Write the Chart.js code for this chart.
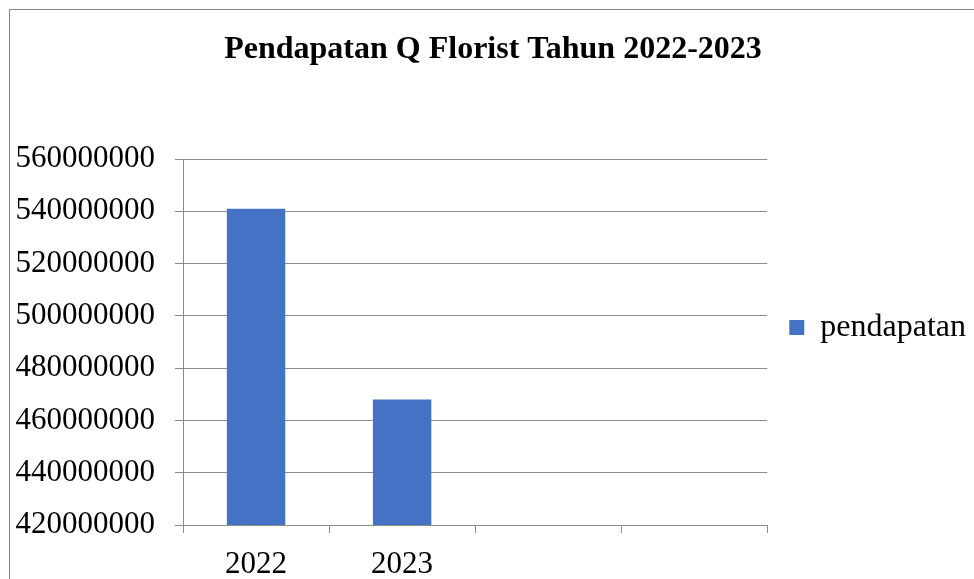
<!DOCTYPE html>
<html>
<head>
<meta charset="utf-8">
<script src="https://cdn.jsdelivr.net/npm/chart.js@4/dist/chart.umd.min.js"></script>
<style>
html,body{margin:0;padding:0;background:#fff;}
#wrap{position:relative;width:974px;height:579px;}
</style>
</head>
<body>
<div id="wrap"><canvas id="c" width="974" height="579"></canvas></div>
<script>
const chartTitle = "Pendapatan Q Florist Tahun 2022-2023";
const categories = ["2022", "2023", "", ""];
const seriesName = "pendapatan";
const pendapatan = [541000000, 468000000, null, null];
const yMin = 420000000;
const yMax = 560000000;
const yStep = 20000000;

const frame = {
  id: 'frame',
  beforeDraw(chart) {
    const ctx = chart.ctx;
    ctx.save();
    ctx.fillStyle = '#fff';
    ctx.fillRect(0, 0, chart.width, chart.height);
    ctx.strokeStyle = '#868686';
    ctx.lineWidth = 1;
    ctx.strokeRect(9.5, 9.5, 1200, 1200);
    ctx.restore();
  }
};

const serif = "'Liberation Serif', 'Times New Roman', serif";
const gridColor = '#8c8c8c';

new Chart(document.getElementById('c'), {
  type: 'bar',
  data: {
    labels: categories,
    datasets: [{
      label: seriesName,
      data: pendapatan,
      backgroundColor: '#4472C4',
      borderWidth: 0,
      categoryPercentage: 1,
      barPercentage: 0.4
    }]
  },
  options: {
    responsive: false,
    animation: false,
    devicePixelRatio: 1,
    layout: { padding: { left: 10, right: -2, top: 0, bottom: 0 } },
    plugins: {
      title: {
        display: true,
        text: chartTitle,
        color: '#000',
        font: { family: serif, size: 32, weight: 'bold' },
        padding: { top: 31, bottom: 89.6 }
      },
      legend: {
        display: true,
        position: 'right',
        align: 'center',
        title: {
          display: true,
          text: ' ',
          font: { size: 10 },
          padding: { top: 0, bottom: 64 }
        },
        labels: {
          color: '#000',
          font: { family: serif, size: 32 },
          boxWidth: 15,
          boxHeight: 15,
          padding: 22
        }
      },
      tooltip: { enabled: false }
    },
    scales: {
      x: {
        grid: {
          offset: true,
          drawOnChartArea: false,
          drawTicks: true,
          tickLength: 8,
          color: gridColor
        },
        border: { display: true, color: gridColor },
        ticks: {
          color: '#000',
          font: { family: serif, size: 31 },
          padding: 13,
          maxRotation: 0
        },
        afterFit(scale) { scale.height = 54; }
      },
      y: {
        min: yMin,
        max: yMax,
        grid: {
          color: gridColor,
          tickLength: 8,
          drawTicks: true
        },
        border: { display: true, color: gridColor },
        ticks: {
          stepSize: yStep,
          color: '#000',
          font: { family: serif, size: 31 },
          padding: 20,
          callback: (v) => String(v)
        },
        afterFit(scale) { scale.width = 173; }
      }
    }
  },
  plugins: [frame]
});
</script>
</body>
</html>
